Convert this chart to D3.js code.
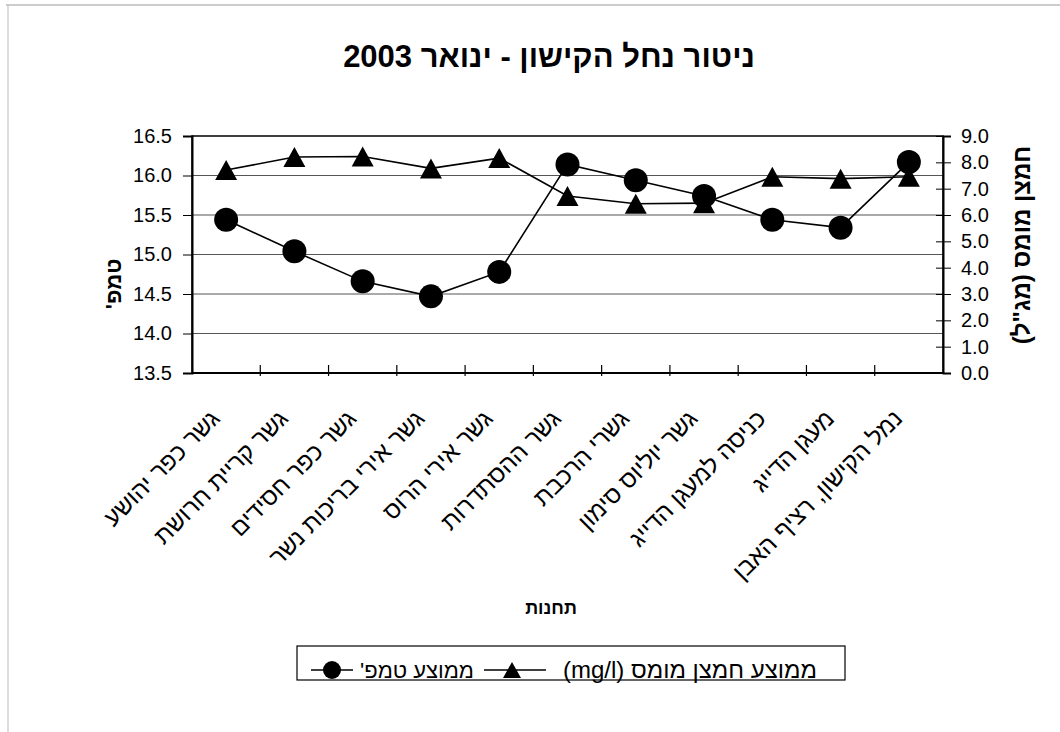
<!DOCTYPE html>
<html>
<head>
<meta charset="utf-8">
<script src="https://cdn.jsdelivr.net/npm/d3@7"></script>
<style>
	body { margin: 0; background: #fff; }
	text { font-family: "Liberation Sans", Arial, "DejaVu Sans", sans-serif; fill: #000; }
</style>
</head>
<body>
<div id="chart"></div>
<script>
var stations = ["גשר כפר יהושע", "גשר קריית חרושת", "גשר כפר חסידים", "גשר אירי בריכות נשר", "גשר אירי הרוס",
	"גשר ההסתדרות", "גשרי הרכבת", "גשר יוליוס סימון", "כניסה למעגן הדייג", "מעגן הדייג", "נמל הקישון, רציף האבן"];
var temp = [15.44, 15.04, 14.66, 14.47, 14.78, 16.14, 15.94, 15.74, 15.44, 15.34, 16.17];
var oxygen = [7.71, 8.20, 8.22, 7.77, 8.16, 6.72, 6.43, 6.45, 7.45, 7.38, 7.45];
var tempTicks = [13.5, 14.0, 14.5, 15.0, 15.5, 16.0, 16.5];
var oxygenTicks = [0, 1, 2, 3, 4, 5, 6, 7, 8, 9];

var title = "ניטור נחל הקישון - ינואר 2003";
var xTitle = "תחנות";
var yTitle = "טמפ'";
var y2Title = "חמצן מומס (מג\"ל)";
var legendNames = ["ממוצע טמפ'", "ממוצע חמצן מומס (mg/l)"];

var width = 1060, height = 732;
// plot area (note: "top" is reserved on window, so use plot_*)
var plot_left = 192, plot_right = 943, plot_top = 136, plot_bottom = 373;
var line_width = 1.6;

var svg = d3.select("#chart").append("svg")
	.attr("width", width)
	.attr("height", height);

// page frame (scanned sheet edge)
svg.append("line").attr("x1", 6).attr("y1", 5).attr("x2", width).attr("y2", 5)
	.attr("stroke", "#999").attr("stroke-width", 1);
svg.append("line").attr("x1", 8).attr("y1", 5).attr("x2", 8).attr("y2", height)
	.attr("stroke", "#bbb").attr("stroke-width", 1);

var x = d3.scaleBand().domain(stations).range([plot_left, plot_right]).padding(0);
var yT = d3.scaleLinear().domain([13.5, 16.5]).range([plot_bottom, plot_top]);
var yO = d3.scaleLinear().domain([0, 9]).range([plot_bottom, plot_top]);
function cx(d) { return x(d) + x.bandwidth() / 2; }

// gridlines
svg.append("g").selectAll("line")
	.data(tempTicks.slice(1, -1))
	.enter().append("line")
	.attr("x1", plot_left).attr("x2", plot_right)
	.attr("y1", function(d) { return yT(d); })
	.attr("y2", function(d) { return yT(d); })
	.attr("stroke", "#555")
	.attr("stroke-width", 1);

// plot border
svg.append("rect")
	.attr("x", plot_left).attr("y", plot_top)
	.attr("width", plot_right - plot_left).attr("height", plot_bottom - plot_top)
	.attr("fill", "none").attr("stroke", "#000").attr("stroke-width", 1.5);

// left axis
var axisL = svg.append("g")
	.attr("transform", "translate(" + plot_left + ",0)")
	.call(d3.axisLeft(yT).tickValues(tempTicks).tickFormat(d3.format(".1f")).tickSize(9).tickPadding(11));
axisL.select(".domain").attr("stroke-width", 2);
axisL.selectAll("text").style("font-size", "20px").attr("fill", "#000");

// right axis, ticks cross the line
var axisR = svg.append("g")
	.attr("transform", "translate(" + plot_right + ",0)")
	.call(d3.axisRight(yO).tickValues(oxygenTicks).tickFormat(d3.format(".1f")).tickSize(8).tickPadding(10));
axisR.select(".domain").attr("stroke-width", 2);
axisR.selectAll(".tick line").attr("x1", -7);
axisR.selectAll("text").style("font-size", "20px").attr("fill", "#000");

// bottom axis
svg.append("line")
	.attr("x1", plot_left).attr("x2", plot_right)
	.attr("y1", plot_bottom).attr("y2", plot_bottom)
	.attr("stroke", "#000").attr("stroke-width", 2);
svg.append("g").selectAll("line")
	.data(stations.slice(1))
	.enter().append("line")
	.attr("x1", function(d) { return x(d); })
	.attr("x2", function(d) { return x(d); })
	.attr("y1", plot_bottom - 8).attr("y2", plot_bottom + 3)
	.attr("stroke", "#000").attr("stroke-width", 1.2);

svg.append("g").selectAll("text")
	.data(stations)
	.enter().append("text")
	.attr("transform", function(d) { return "translate(" + (cx(d) - 5) + "," + (plot_bottom + 47) + ") rotate(-45)"; })
	.attr("text-anchor", "end")
	.style("font-size", "24px")
	.text(function(d) { return d; });

// series lines
var lineT = d3.line()
	.x(function(d, i) { return cx(stations[i]); })
	.y(function(d) { return yT(d); });
var lineO = d3.line()
	.x(function(d, i) { return cx(stations[i]); })
	.y(function(d) { return yO(d); });

svg.append("path").datum(oxygen)
	.attr("d", lineO).attr("fill", "none")
	.attr("stroke", "#000").attr("stroke-width", line_width);
svg.append("path").datum(temp)
	.attr("d", lineT).attr("fill", "none")
	.attr("stroke", "#000").attr("stroke-width", line_width);

var tri = "M0,-10L11,10L-11,10Z";
svg.append("g").selectAll("path")
	.data(oxygen)
	.enter().append("path")
	.attr("d", tri)
	.attr("transform", function(d, i) { return "translate(" + cx(stations[i]) + "," + yO(d) + ")"; })
	.attr("fill", "#000");
svg.append("g").selectAll("circle")
	.data(temp)
	.enter().append("circle")
	.attr("cx", function(d, i) { return cx(stations[i]); })
	.attr("cy", function(d) { return yT(d); })
	.attr("r", 12)
	.attr("fill", "#000");

// titles
svg.append("text")
	.attr("x", 549).attr("y", 67)
	.attr("text-anchor", "middle").attr("direction", "rtl")
	.style("font-size", "31px").style("font-weight", "bold")
	.text(title);
svg.append("text")
	.attr("x", 551).attr("y", 614)
	.attr("text-anchor", "middle").attr("direction", "rtl")
	.style("font-size", "18px").style("font-weight", "bold")
	.text(xTitle);
svg.append("text")
	.attr("transform", "translate(121,284) rotate(-90)")
	.attr("text-anchor", "middle").attr("direction", "rtl")
	.style("font-size", "22px").style("font-weight", "bold")
	.text(yTitle);
svg.append("text")
	.attr("transform", "translate(1030,245) rotate(-90)")
	.attr("text-anchor", "middle").attr("direction", "rtl")
	.style("font-size", "24px").style("font-weight", "bold")
	.text(y2Title);

// legend
var lg = svg.append("g");
lg.append("rect")
	.attr("x", 297).attr("y", 646).attr("width", 548).attr("height", 34)
	.attr("fill", "none").attr("stroke", "#000").attr("stroke-width", 1.2);
lg.append("line").attr("x1", 311).attr("x2", 353).attr("y1", 670).attr("y2", 670)
	.attr("stroke", "#000").attr("stroke-width", line_width);
lg.append("circle").attr("cx", 332).attr("cy", 670).attr("r", 9).attr("fill", "#000");
lg.append("text").attr("x", 417).attr("y", 678)
	.attr("text-anchor", "middle").attr("direction", "rtl")
	.style("font-size", "22px")
	.text(legendNames[0]);
lg.append("line").attr("x1", 484).attr("x2", 546).attr("y1", 670).attr("y2", 670)
	.attr("stroke", "#000").attr("stroke-width", line_width);
lg.append("path").attr("d", "M0,-8L9,8L-9,8Z")
	.attr("transform", "translate(512,670)").attr("fill", "#000");
lg.append("text").attr("x", 690).attr("y", 678)
	.attr("text-anchor", "middle").attr("direction", "rtl")
	.style("font-size", "24px")
	.text(legendNames[1]);
</script>
</body>
</html>
